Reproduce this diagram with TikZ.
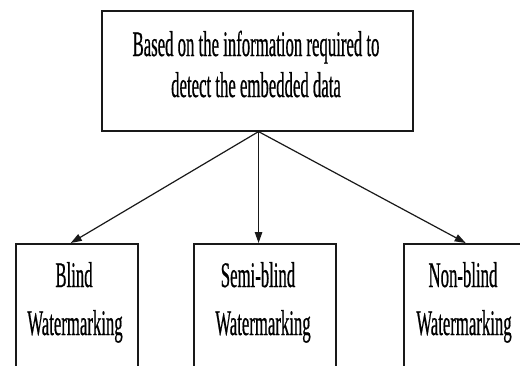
\documentclass[tikz,border=0pt]{standalone}
\usepackage{fontspec}
\setmainfont{Liberation Serif}[FakeStretch=0.465,FakeBold=0.5]
\usetikzlibrary{arrows.meta,calc}
\begin{document}
\begin{tikzpicture}[x=1pt,y=-1pt,
  box/.style={draw=black!90, line width=1.6pt, inner sep=0pt, anchor=north west},
  lbl/.style={font=\fontsize{36}{44}\selectfont, inner sep=0pt, anchor=base},
  arr/.style={-{Triangle[length=11pt,width=7.5pt]}, line width=1.2pt, draw=black!90}]
\useasboundingbox (0,0) rectangle (520,365);
\begin{scope}
\clip (0,0) rectangle (520,365);
\fill[white] (0,0) rectangle (520,365);
% boxes
\node[box, minimum width=311pt, minimum height=120pt] (top) at (101,10) {};
\node[box, minimum width=122pt, minimum height=150pt] (blind) at (15,243) {};
\node[box, minimum width=142pt, minimum height=150pt] (semi) at (193,243) {};
\node[box, minimum width=140pt, minimum height=150pt] (non) at (403,243) {};
% texts
\node[lbl] (t1) at (256,56) {Based on the information required to};
\node[lbl] (t2) at (256,97) {detect the embedded data};
\node[lbl] (b1) at (74,287) {Blind};
\node[lbl] (b2) at (75,335) {Watermarking};
\node[lbl] (s1) at (258,287) {Semi-blind};
\node[lbl] (s2) at (263,335) {Watermarking};
\node[lbl] (n1) at (463,287) {Non-blind};
\node[lbl] (n2) at (464,335) {Watermarking};
% connectors
\coordinate (src) at ($(top.south west)!0.504!(top.south east)$);
\draw[arr] (src) -- ($(blind.north west)!0.451!(blind.north east)$);
\draw[arr] (src) -- (src |- semi.north);
\draw[arr] (src) -- ($(non.north west)!0.443!(non.north east)$);
\end{scope}
\end{tikzpicture}
\end{document}
